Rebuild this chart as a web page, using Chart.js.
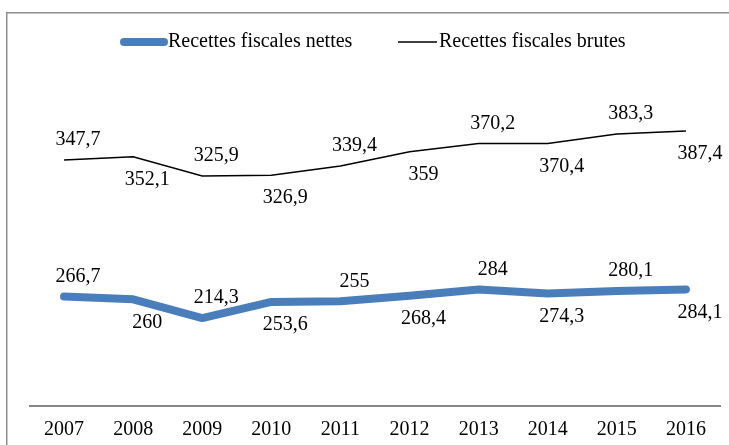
<!DOCTYPE html>
<html>
<head>
<meta charset="utf-8">
<script src="https://cdn.jsdelivr.net/npm/chart.js@4/dist/chart.umd.min.js"></script>
<style>
  html, body { margin: 0; padding: 0; background: #ffffff; overflow: hidden; }
  canvas { display: block; }
</style>
</head>
<body>
<canvas id="chart" width="729" height="445"></canvas>
<script>
// Years on the horizontal axis
const years = ['2007', '2008', '2009', '2010', '2011', '2012', '2013', '2014', '2015', '2016'];

// Net tax revenue
const netRevenue = [266.7, 260, 214.3, 253.6, 255, 268.4, 284, 274.3, 280.1, 284.1];

// Gross tax revenue
const grossRevenue = [347.7, 352.1, 325.9, 326.9, 339.4, 359, 370.2, 370.4, 383.3, 387.4];

// Series names
const seriesNames = ['Recettes fiscales nettes', 'Recettes fiscales brutes'];

const FONT = "'Liberation Serif', 'Times New Roman', serif";
const fmt = v => String(v).replace('.', ',');

// Outer frame around the chart
const framePlugin = {
  id: 'frame',
  beforeDraw(chart) {
    const ctx = chart.ctx;
    ctx.save();
    ctx.fillStyle = '#ffffff';
    ctx.fillRect(0, 0, chart.width, chart.height);
    ctx.strokeStyle = '#8e8e8e';
    ctx.lineWidth = 1.5;
    ctx.strokeRect(6.75, 12.75, chart.width + 20, chart.height + 20);
    ctx.restore();
  }
};

// Value labels, alternating above and below each point
const valueLabelPlugin = {
  id: 'valueLabels',
  afterDatasetsDraw(chart) {
    const ctx = chart.ctx;
    ctx.save();
    ctx.font = '20px ' + FONT;
    ctx.fillStyle = '#000000';
    ctx.textAlign = 'center';
    ctx.textBaseline = 'middle';
    chart.data.datasets.forEach((ds, i) => {
      const meta = chart.getDatasetMeta(i);
      meta.data.forEach((pt, j) => {
        const above = j % 2 === 0;
        ctx.fillText(fmt(ds.data[j]), pt.x + 14, pt.y + (above ? -20 : 23));
      });
    });
    ctx.restore();
  }
};

// Legend row with line samples touching the text
const legendPlugin = {
  id: 'lineLegend',
  afterDraw(chart) {
    const ctx = chart.ctx;
    const y = 42;
    const items = [
      { ds: chart.data.datasets[0], x0: 124, x1: 164, tx: 168 },
      { ds: chart.data.datasets[1], x0: 398, x1: 437, tx: 439 }
    ];
    ctx.save();
    ctx.font = '20px ' + FONT;
    ctx.textBaseline = 'middle';
    ctx.textAlign = 'left';
    items.forEach(it => {
      ctx.beginPath();
      ctx.strokeStyle = it.ds.borderColor;
      ctx.lineWidth = it.ds.borderWidth;
      ctx.lineCap = it.ds.borderCapStyle || 'butt';
      ctx.moveTo(it.x0, y);
      ctx.lineTo(it.x1, y);
      ctx.stroke();
      ctx.fillStyle = '#000000';
      ctx.fillText(it.ds.label, it.tx, y);
    });
    ctx.restore();
  }
};

new Chart(document.getElementById('chart'), {
  type: 'line',
  data: {
    labels: years,
    datasets: [
      {
        label: seriesNames[0],
        data: netRevenue,
        yAxisID: 'yNet',
        borderColor: '#4a7ebb',
        borderWidth: 8,
        borderCapStyle: 'round',
        borderJoinStyle: 'round',
        pointRadius: 0,
        tension: 0,
        fill: false
      },
      {
        label: seriesNames[1],
        data: grossRevenue,
        yAxisID: 'yGross',
        borderColor: '#000000',
        borderWidth: 1.5,
        borderCapStyle: 'butt',
        pointRadius: 0,
        tension: 0,
        fill: false
      }
    ]
  },
  options: {
    responsive: false,
    animation: false,
    events: [],
    layout: { padding: { top: 60, left: 29.5, right: 8.5, bottom: -9 } },
    plugins: {
      legend: { display: false },
      tooltip: { enabled: false }
    },
    scales: {
      x: {
        type: 'category',
        offset: true,
        grid: { display: false, drawTicks: false },
        border: { display: true, color: '#868686', width: 2 },
        ticks: {
          color: '#000000',
          padding: 12,
          font: { family: FONT, size: 20 },
          maxRotation: 0,
          autoSkip: false
        }
      },
      yNet: {
        type: 'linear',
        display: false,
        position: 'left',
        min: 0,
        max: 843
      },
      yGross: {
        type: 'linear',
        display: false,
        position: 'right',
        min: 10,
        max: 485
      }
    }
  },
  plugins: [framePlugin, valueLabelPlugin, legendPlugin]
});
</script>
</body>
</html>
